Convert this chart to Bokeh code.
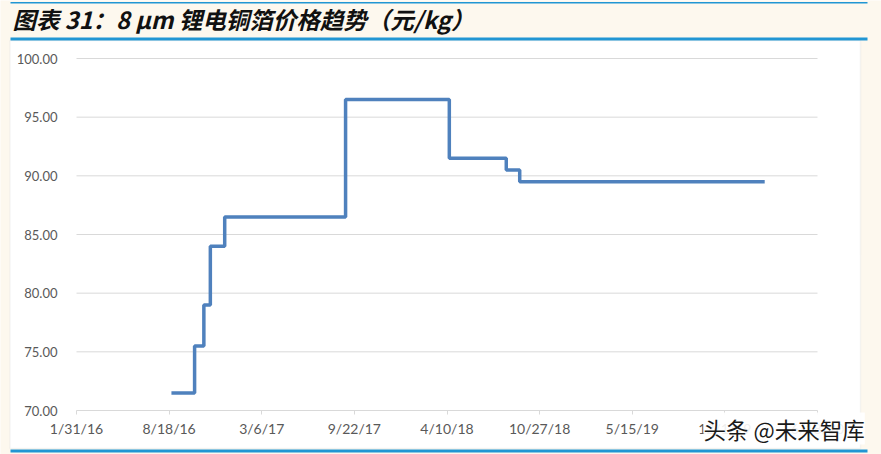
import pandas as pd
from bokeh.plotting import figure
from bokeh.models import (BoxAnnotation, Label, FixedTicker, Range1d,
                          PrintfTickFormatter)
from bokeh.embed import file_html
from bokeh.resources import INLINE

# ---- data ----
price_dates = ["2016-08-23", "2016-10-12", "2016-11-01", "2016-11-15", "2016-12-16",
               "2017-09-03", "2018-04-15", "2018-08-16", "2018-09-14", "2020-02-25"]
prices = [71.5, 75.5, 79.0, 84.0, 86.5, 96.5, 91.5, 90.5, 89.5, 89.5]

x_tick_labels = ["1/31/16", "8/18/16", "3/6/17", "9/22/17", "4/10/18",
                 "10/27/18", "5/15/19", "12/1/19", "6/18/20"]
y_ticks = [70, 75, 80, 85, 90, 95, 100]

title_text = "图表 31：8 μm 锂电铜箔价格趋势（元/kg）"
watermark = "头条 @未来智库"

cream = "#FDF8EE"
blue = "#2196D3"
grey = "#D9D9D9"

dates = pd.to_datetime(price_dates)
tick_dates = pd.to_datetime(x_tick_labels, format="%m/%d/%y")
tick_ms = [float(d.value // 10**6) for d in tick_dates]

# the plot frame fills the whole canvas; axes sit at fixed locations inside it
W, H = 881, 454
ax_left, ax_right, ax_top, ax_bottom = 76, 817, 58, 410
px_day = (ax_right - ax_left) / (tick_dates[-1] - tick_dates[0]).days
px_unit = (ax_bottom - ax_top) / (y_ticks[-1] - y_ticks[0])
x_range = Range1d(tick_dates[0] - pd.Timedelta(days=ax_left / px_day),
                  tick_dates[0] + pd.Timedelta(days=(W - ax_left) / px_day))
y_range = Range1d(y_ticks[0] - (H - ax_bottom) / px_unit,
                  y_ticks[-1] + ax_top / px_unit)

p = figure(width=W, height=H, x_axis_type="datetime",
           x_range=x_range, y_range=y_range,
           output_backend="svg", toolbar_location=None, min_border=0,
           border_fill_color=cream, background_fill_color=cream,
           outline_line_color=None)


def box(l, r, b, t, **kw):
    # screen units, from the canvas bottom-left corner
    return BoxAnnotation(left=l, right=r, bottom=b, top=t,
                         left_units="screen", right_units="screen",
                         bottom_units="screen", top_units="screen",
                         fill_alpha=1, level="image", **kw)


p.add_layout(box(9.5, 860, 6, 414, fill_color="white",
                 line_color="#DEDEDE", line_width=1.5))
p.add_layout(box(10, 867, 414, 417, fill_color=blue, line_color=None))
p.add_layout(box(10, 867, 451, 452.5, fill_color=blue, line_color=None))
p.add_layout(box(10, 867, 2, 5, fill_color=blue, line_color=None))

# horizontal gridlines over the axis span
grid_y = y_ticks[1:]
p.segment(x0=[tick_dates[0]] * len(grid_y), x1=[tick_dates[-1]] * len(grid_y),
          y0=grid_y, y1=grid_y, line_color=grey, line_width=1)

p.step(dates, prices, mode="after", line_color="#4F81BD", line_width=3.5)

# axes
p.xgrid.grid_line_color = None
p.ygrid.grid_line_color = None

p.xaxis.fixed_location = y_ticks[0]
p.xaxis.bounds = (tick_dates[0], tick_dates[-1])
p.xaxis.ticker = FixedTicker(ticks=tick_ms)
p.xaxis.major_label_overrides = {t: lab for t, lab in zip(tick_ms, x_tick_labels)}
p.xaxis.axis_line_color = grey
p.xaxis.major_tick_line_color = grey
p.xaxis.major_tick_in = 0
p.xaxis.major_tick_out = 4
p.xaxis.minor_tick_line_color = None
p.xaxis.major_label_standoff = 5
p.xaxis.major_label_text_font = "Lato"
p.xaxis.major_label_text_font_size = "14px"
p.xaxis.major_label_text_color = "#595959"

p.yaxis.fixed_location = tick_ms[0]
p.yaxis.bounds = (y_ticks[0], y_ticks[-1])
p.yaxis.ticker = FixedTicker(ticks=y_ticks)
p.yaxis.formatter = PrintfTickFormatter(format="%.2f")
p.yaxis.axis_line_color = None
p.yaxis.major_tick_line_color = None
p.yaxis.minor_tick_line_color = None
p.yaxis.major_label_standoff = 13
p.yaxis.major_label_text_font = "Lato"
p.yaxis.major_label_text_font_size = "13px"
p.yaxis.major_label_text_color = "#595959"

# title and watermark
p.add_layout(Label(x=12, y=436, x_units="screen", y_units="screen", text=title_text,
                   text_font="Noto Sans CJK SC", text_font_size="23.5px",
                   text_font_style="bold italic", text_color="#111111",
                   text_baseline="middle"))
p.add_layout(Label(x=703, y=26, x_units="screen", y_units="screen", text=watermark,
                   text_font="Noto Sans CJK SC", text_font_size="22.5px",
                   text_color="#1A1A1A", text_baseline="middle",
                   background_fill_color="white", background_fill_alpha=0.9))

open("out.html", "w").write(file_html(p, INLINE))
